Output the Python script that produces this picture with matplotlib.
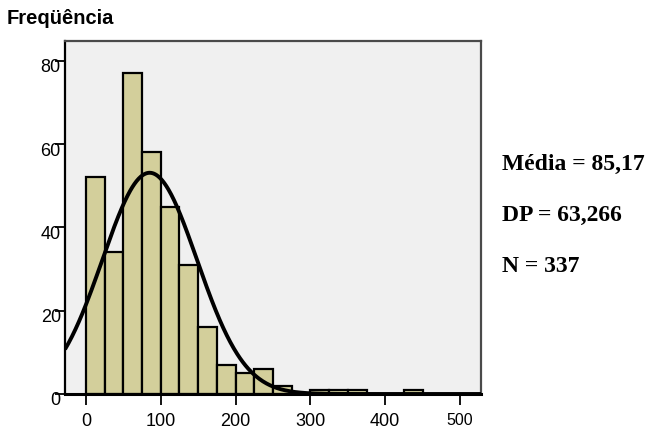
import numpy as np
import matplotlib
matplotlib.use("Agg")
import matplotlib.pyplot as plt
from matplotlib.transforms import ScaledTranslation

# Histogram counts per 25-unit bin, starting at 0
bin_width = 25
counts = [52, 34, 77, 58, 45, 31, 16, 7, 5, 6, 2, 0, 1, 1, 1, 0, 0, 1]
x_ticks = [0, 100, 200, 300, 400, 500]
y_ticks = [0, 20, 40, 60, 80]

mean = 85.17
sd = 63.266
n = 337

fig = plt.figure(figsize=(6.51, 4.31), dpi=100)
ax = fig.add_axes([65 / 651, 1 - 395 / 431, (481 - 65) / 651, (395 - 42.3) / 431])
ax.set_facecolor("#f0f0f0")

edges = np.arange(len(counts)) * bin_width
ax.bar(edges, counts, width=bin_width, align="edge",
       color="#d3cf9b", edgecolor="black", linewidth=1.6, zorder=2)

# Normal curve scaled to the histogram
xs = np.linspace(-28, 528, 600)
pdf = np.exp(-0.5 * ((xs - mean) / sd) ** 2) / (sd * np.sqrt(2 * np.pi))
ax.plot(xs, pdf * n * bin_width, color="black", linewidth=2.8, zorder=3,
        solid_capstyle="butt")

ax.set_xlim(-28, 528)
ax.set_ylim(0, 84.7)

ax.set_xticks(x_ticks)
ax.set_yticks(y_ticks)
ax.tick_params(axis="both", direction="out", width=1.3, color="black")
ax.tick_params(axis="y", length=7, pad=-4, labelsize=13)
ax.tick_params(axis="x", length=8, pad=5, labelsize=13)
for lab in ax.get_xticklabels() + ax.get_yticklabels():
    lab.set_fontfamily("Liberation Sans")
ax.get_xticklabels()[-1].set_fontsize(11.5)
shift = ScaledTranslation(0, -4 / 100, fig.dpi_scale_trans)
for lab in ax.get_yticklabels():
    lab.set_transform(lab.get_transform() + shift)

for side in ("left", "bottom"):
    ax.spines[side].set_color("black")
    ax.spines[side].set_linewidth(1.6)
for side in ("top", "right"):
    ax.spines[side].set_color("#4a4a4a")
    ax.spines[side].set_linewidth(1.6)
ax.spines["bottom"].set_linewidth(2.2)

fig.text(7 / 651, 1 - 18 / 431, "Freqüência", fontfamily="Liberation Sans",
         fontweight="bold", fontsize=14.5, ha="left", va="center")

stats = [f"Média = {mean:.2f}".replace(".", ","),
         f"DP = {sd:.3f}".replace(".", ","),
         f"N = {n}"]
for i, s in enumerate(stats):
    fig.text(502 / 651, 1 - (164 + 51.5 * i) / 431, s,
             fontfamily="Liberation Serif", fontweight="bold", fontsize=17,
             ha="left", va="center")

fig.savefig("out.png", dpi=100)
